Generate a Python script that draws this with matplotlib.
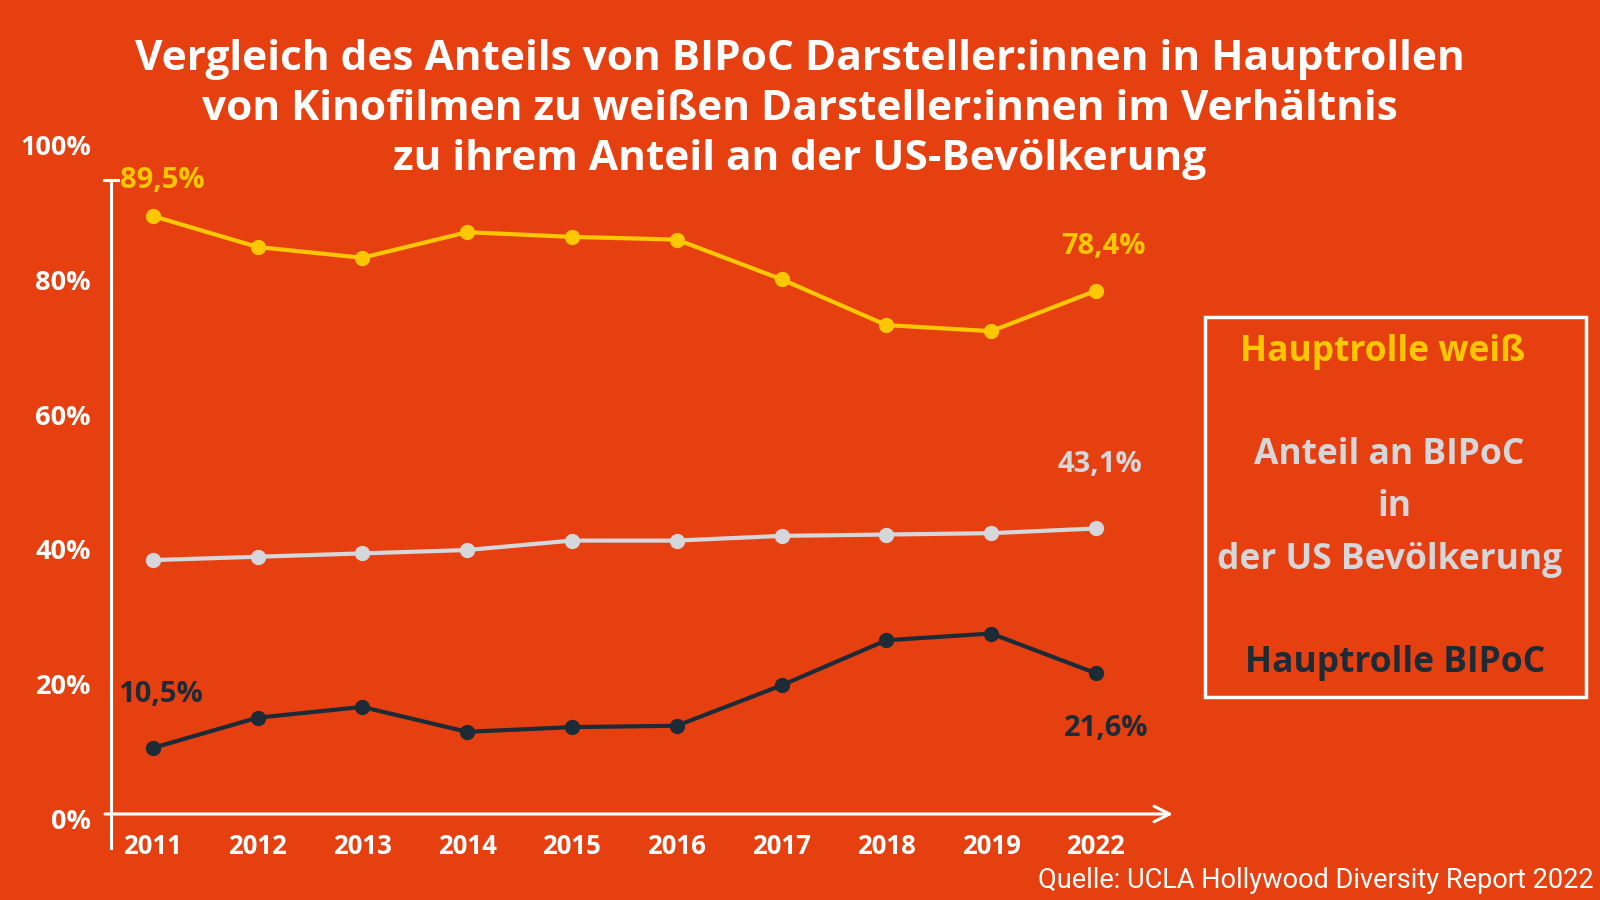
import matplotlib
matplotlib.use('Agg')
import matplotlib.pyplot as plt

# data (percent)
years = ['2011', '2012', '2013', '2014', '2015', '2016', '2017', '2018', '2019', '2022']
weiss = [89.5, 84.9, 83.3, 87.1, 86.4, 86.0, 80.1, 73.3, 72.4, 78.4]
bevoelkerung = [38.4, 38.9, 39.4, 39.9, 41.3, 41.3, 42.0, 42.2, 42.4, 43.1]
bipoc = [10.5, 15.0, 16.6, 12.9, 13.6, 13.8, 19.8, 26.5, 27.5, 21.6]
ytick_vals = [0, 20, 40, 60, 80, 100]
ytick_labels = ['0%', '20%', '40%', '60%', '80%', '100%']

BG = '#E64011'
YELLOW = '#FFC700'
GRAY = '#D5D7DB'
DARK = '#1C2B36'
W, H = 1600, 900

plt.rcParams['font.family'] = ['Open Sans', 'DejaVu Sans']

fig = plt.figure(figsize=(16, 9), dpi=100, facecolor=BG)

def fx(x):
    return x / W

def fy(y):
    return 1 - y / H

# axes area in pixels (from top-left)
left, right, top, bottom = 105, 1180, 140, 848
ax = fig.add_axes([fx(left), fy(bottom), (right - left) / W, (bottom - top) / H])
ax.patch.set_alpha(0)
x0, dx = 152.7, 104.8
y0, dy = 818.7, 6.734
ax.set_xlim((left - x0) / dx, (right - x0) / dx)
ax.set_ylim((y0 - bottom) / dy, (y0 - top) / dy)
for s in ax.spines.values():
    s.set_visible(False)

xs = list(range(len(years)))
for vals, col in [(weiss, YELLOW), (bevoelkerung, GRAY), (bipoc, DARK)]:
    ax.plot(xs, vals, color=col, lw=3, marker='o', ms=10, solid_capstyle='round', zorder=3)

# axis lines
xa = (111 - x0) / dx
ax.plot([xa, xa], [(y0 - 848) / dy, (y0 - 180) / dy], color='white', lw=2.2, clip_on=False)
ax.plot([(104 - x0) / dx, (118 - x0) / dx], [(y0 - 180) / dy] * 2, color='white', lw=2.2, clip_on=False)
ya = (y0 - 814) / dy
ax.annotate('', xy=((1173 - x0) / dx, ya), xytext=((105 - x0) / dx, ya),
            arrowprops=dict(arrowstyle='->', color='white', lw=2.2, mutation_scale=28,
                            shrinkA=0, shrinkB=0), annotation_clip=False)

ax.set_xticks(xs)
ax.set_xticklabels(years)
ax.set_yticks(ytick_vals)
ax.set_yticklabels(ytick_labels)
ax.tick_params(length=0, colors='white')
ax.tick_params(axis='x', pad=-11, labelsize=18.5)
ax.tick_params(axis='y', pad=10, labelsize=19.5)
for lab in ax.get_xticklabels() + ax.get_yticklabels():
    lab.set_fontweight('bold')

# value labels
def lbl(i, vals, txt, col, ox, oy):
    ax.annotate(txt, xy=(i, vals[i]), xytext=(ox, oy), textcoords='offset pixels',
                ha='center', va='center', color=col, fontsize=21, fontweight='bold')

lbl(0, weiss, '89,5%', YELLOW, 10, 36)
lbl(0, bipoc, '10,5%', DARK, 8, 53)
lbl(9, weiss, '78,4%', YELLOW, 8, 44)
lbl(9, bevoelkerung, '43,1%', GRAY, 4, 64)
lbl(9, bipoc, '21,6%', DARK, 10, -55)

# title
title = ['Vergleich des Anteils von BIPoC Darsteller:innen in Hauptrollen',
         'von Kinofilmen zu weißen Darsteller:innen im Verhältnis',
         'zu ihrem Anteil an der US-Bevölkerung']
for k, t in enumerate(title):
    fig.text(fx(800), fy(60 + 50 * k), t, ha='center', va='center', color='white',
             fontsize=30.5, fontweight='bold')

# legend box
fig.patches.append(plt.Rectangle((fx(1205), fy(697)), (1586 - 1205) / W, (697 - 317) / H,
                                 transform=fig.transFigure, fill=False, ec='white', lw=2.5))
box = [('Hauptrolle weiß', YELLOW, 1383, 352), ('Anteil an BIPoC', GRAY, 1389, 455),
       ('in', GRAY, 1394, 507), ('der US Bevölkerung', GRAY, 1390, 560),
       ('Hauptrolle BIPoC', DARK, 1395, 663)]
for t, col, x, y in box:
    fig.text(fx(x), fy(y), t, ha='center', va='center', color=col, fontsize=25.5,
             fontweight='bold')

fig.text(fx(1594), fy(881), 'Quelle: UCLA Hollywood Diversity Report 2022', ha='right',
         va='center', color='white', fontsize=19.5, fontweight='normal',
         family=['Roboto', 'DejaVu Sans'])

fig.savefig('out.png', dpi=100, facecolor=BG)
